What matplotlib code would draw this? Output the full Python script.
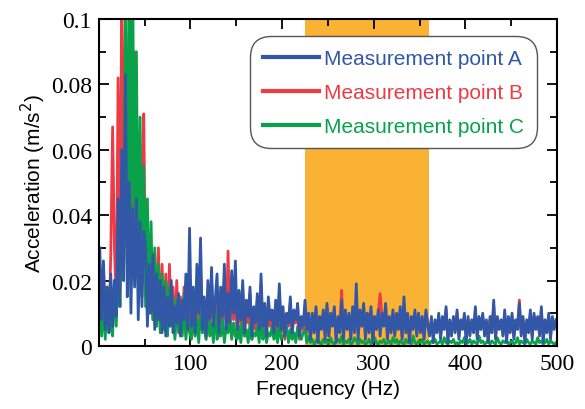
import numpy as np
import matplotlib
matplotlib.use('Agg')
import matplotlib.pyplot as plt
from matplotlib.ticker import MultipleLocator, FuncFormatter

# spectrum amplitudes in 1e-3 m/s^2 (~2 Hz steps, 0-500 Hz)
acc_a = [30, 8, 26, 5, 18, 4, 22, 6, 20, 9,
         45, 12, 60, 20, 83, 15, 50, 10, 42, 18, 45, 8, 38, 12, 35,
         30, 6, 25, 10, 28, 5, 22, 8, 20, 4,
         18, 3, 15, 6, 20, 4, 12, 7, 16, 3, 14, 8, 22, 5, 36,
         6, 18, 4, 25, 10, 33, 5, 15, 3, 20, 8, 24, 6, 14, 22, 4, 18, 9, 25, 5, 16, 7, 23, 10, 26,
         5, 17, 8, 20, 4, 14, 9, 18, 3, 12, 7, 16, 5, 22, 6, 13, 3, 15, 8, 11,
         4, 14, 6, 19, 5, 12, 3, 10, 7, 15, 4, 11, 8, 13, 3, 9, 6, 14, 5, 10,
         2, 10, 4, 12, 1, 9, 5, 11, 2, 13, 3, 10, 6, 12, 1, 9, 4, 14, 2, 11,
         5, 10, 2, 12, 4, 19, 2, 11, 6, 13, 2, 10, 4, 12, 1, 9, 5, 11, 3, 10,
         6, 13, 2, 9, 4, 11, 3, 10, 5, 12, 2, 15, 4, 10, 1, 9, 5, 11, 3, 10,
         4, 9, 2, 11, 6,
         3, 9, 1, 8, 4, 10, 2, 9, 5, 12, 1, 8, 3, 9, 4, 11, 2, 8, 5, 10,
         1, 9, 3, 8, 4, 12, 2, 9, 5, 10, 3, 8, 1, 9, 4, 14, 2, 9, 5, 8,
         3, 11, 1, 9, 4, 10, 2, 8, 5, 13, 3, 9, 1, 8, 4, 11, 2, 10, 5, 9,
         3, 12, 1, 8, 4, 10, 2, 9, 5, 8]

acc_b = [20, 6, 25, 8, 18, 5, 28, 67, 30, 12,
         82, 20, 110, 30, 105, 35, 60, 25, 55, 90, 30, 65, 20, 50, 71,
         15, 35, 10, 30, 8, 28, 6, 30, 5, 25,
         6, 22, 4, 25, 7, 18, 3, 20, 5, 15, 4, 18, 3, 14, 10,
         5, 14, 3, 20, 8, 22, 4, 12, 2, 16, 6, 20, 5, 10, 18, 3, 14, 7, 20, 4, 29, 6, 18, 8, 20,
         4, 15, 6, 18, 3, 12, 7, 16, 2, 10, 5, 14, 4, 19, 5, 11, 2, 13, 6, 9,
         3, 12, 5, 16, 4, 10, 2, 9, 6, 13, 3, 10, 7, 11, 2, 8, 5, 12, 4, 9,
         3, 9, 5, 11, 2, 8, 6, 10, 4, 12, 3, 9, 7, 11, 2, 8, 5, 17, 4, 10,
         6, 9, 3, 11, 5, 10, 4, 9, 7, 12, 3, 10, 5, 11, 2, 8, 6, 10, 16, 9,
         7, 12, 3, 8, 5, 10, 4, 9, 6, 11, 3, 13, 5, 9, 2, 8, 6, 10, 4, 9,
         5, 8, 3, 10, 7,
         4, 8, 3, 7, 5, 9, 3, 8, 6, 11, 2, 7, 4, 8, 5, 10, 3, 7, 6, 9,
         2, 8, 4, 7, 5, 11, 3, 8, 6, 9, 4, 7, 2, 8, 5, 12, 3, 8, 6, 7,
         4, 10, 2, 8, 5, 9, 3, 7, 6, 14, 4, 8, 2, 7, 5, 10, 3, 9, 6, 8,
         4, 11, 2, 7, 5, 9, 3, 8, 6, 7]

acc_c = [15, 3, 12, 2, 18, 4, 10, 3, 20, 6,
         30, 12, 50, 20, 105, 25, 120, 40, 110, 30, 90, 20, 70, 15, 55,
         12, 45, 10, 38, 8, 30, 6, 25, 4, 22,
         5, 20, 3, 18, 6, 15, 2, 14, 4, 12, 3, 16, 2, 10, 4,
         2, 10, 3, 8, 1, 12, 4, 6, 2, 9, 3, 7, 1, 11, 2, 5, 3, 8, 1, 6, 4, 9, 2, 7, 3,
         2, 6, 1, 8, 3, 5, 1, 7, 2, 4, 3, 6, 1, 9, 2, 5, 1, 4, 3, 6,
         2, 5, 1, 7, 2, 3, 4, 6, 1, 5, 2, 4, 1, 6, 3, 2, 4, 5, 1, 3,
         1, 2, 0.5, 1.5, 2.5, 1, 0.5, 2, 1, 1.5, 0.5, 2.5, 1, 0.5, 1.5, 2, 1, 3, 0.5, 1.5,
         1, 2, 0.5, 1, 2.5, 1.5, 0.5, 2, 1, 1.5, 0.5, 1, 2, 0.5, 1.5, 2.5, 1, 0.5, 1.5, 1,
         2, 0.5, 1, 1.5, 0.5, 2.5, 1, 2, 0.5, 1.5, 1, 0.5, 2, 1, 1.5, 0.5, 3, 1, 0.5, 1.5,
         1, 2, 0.5, 1, 1.5,
         0.5, 1.5, 1, 2, 0.5, 1, 1.5, 0.5, 2.5, 1, 0.5, 1.5, 1, 2, 0.5, 1, 0.5, 1.5, 1, 2.5,
         0.5, 1, 2, 0.5, 1.5, 1, 0.5, 3, 1, 1.5, 0.5, 1, 2, 0.5, 1.5, 1, 0.5, 2.5, 1, 0.5,
         1.5, 1, 2, 0.5, 1, 1.5, 0.5, 1, 2.5, 0.5, 1.5, 1, 0.5, 2, 1, 0.5, 1.5, 1, 0.5, 2.5,
         1, 1.5, 0.5, 1, 2, 0.5, 1.5, 1, 0.5, 1]

labels = ['Measurement point A', 'Measurement point B', 'Measurement point C']
colors = ['#3157a6', '#ee3a45', '#08a24b']
band = (225, 360)

fig = plt.figure(figsize=(5.85, 4.1), dpi=100)
ax = fig.add_axes([0.169, 0.154, 0.783, 0.797])

ax.axvspan(band[0], band[1], color='#f9b233', lw=0, zorder=0)

lines = {}
for key, vals, lab, col in [('B', acc_b, labels[1], colors[1]),
                            ('C', acc_c, labels[2], colors[2]),
                            ('A', acc_a, labels[0], colors[0])]:
    y = np.array(vals) * 1e-3
    f = np.linspace(1, 499, len(y))
    lines[key], = ax.plot(f, y, color=col, lw=2.0, label=lab)

ax.set_xlim(0, 500)
ax.set_ylim(0, 0.1)
ax.xaxis.set_major_locator(MultipleLocator(100))
ax.xaxis.set_minor_locator(MultipleLocator(50))
ax.yaxis.set_major_locator(MultipleLocator(0.02))
ax.yaxis.set_minor_locator(MultipleLocator(0.01))
ax.xaxis.set_major_formatter(FuncFormatter(lambda v, p: '' if v == 0 else '%g' % v))
ax.yaxis.set_major_formatter(FuncFormatter(lambda v, p: '%g' % round(v, 3)))
ax.tick_params(which='both', direction='in', top=True, right=True, width=1.3)
ax.tick_params(which='major', length=7, labelsize=17, pad=5)
ax.tick_params(which='minor', length=5)
for lab in ax.get_xticklabels() + ax.get_yticklabels():
    lab.set_family('Liberation Serif')
for s in ax.spines.values():
    s.set_linewidth(1.5)

ax.set_xlabel('Frequency (Hz)', family='Liberation Sans', fontsize=15, labelpad=4)
ax.set_ylabel('Acceleration (m/s$^2$)', family='Liberation Sans', fontsize=15, labelpad=2)

leg = ax.legend([lines['A'], lines['B'], lines['C']], labels,
                loc='upper right', bbox_to_anchor=(0.965, 0.96),
                prop={'family': 'Liberation Sans', 'size': 15},
                labelcolor='linecolor', handlelength=2.7, handletextpad=0.25,
                labelspacing=0.72, borderpad=0.3, framealpha=1,
                edgecolor='#555555')
leg.get_frame().set_boxstyle('round', pad=0.3, rounding_size=1.0)
leg.get_frame().set_linewidth(1.0)
for h in leg.legend_handles:
    h.set_linewidth(3)

fig.savefig('out.png', dpi=100)
